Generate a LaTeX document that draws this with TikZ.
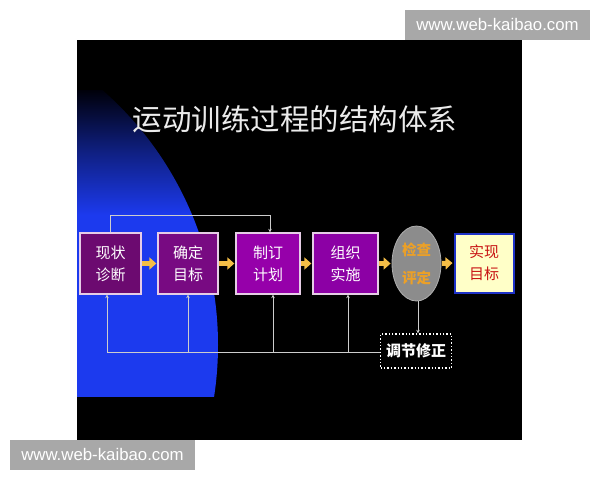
\documentclass[tikz,border=0pt]{standalone}
\usepackage{fontspec}
\setmainfont{Liberation Sans}
\newfontfamily\cjk{Noto Sans CJK SC}
\usetikzlibrary{arrows.meta,shapes.geometric}
\definecolor{blueC}{RGB}{28,58,238}
\definecolor{blueD}{RGB}{0,0,10}
\definecolor{pA}{RGB}{108,10,112}
\definecolor{pB}{RGB}{120,10,130}
\definecolor{pC}{RGB}{150,0,170}
\definecolor{pD}{RGB}{140,0,165}
\definecolor{bord}{RGB}{230,205,230}
\definecolor{ellF}{RGB}{140,140,140}
\definecolor{ellB}{RGB}{175,175,175}
\definecolor{ellT}{RGB}{235,160,40}
\definecolor{yelF}{RGB}{255,255,200}
\definecolor{yelB}{RGB}{30,50,200}
\definecolor{yelT}{RGB}{200,20,20}
\definecolor{arrC}{RGB}{245,190,70}
\definecolor{connC}{RGB}{205,205,205}
\definecolor{wmC}{RGB}{168,168,168}
\tikzset{
  stepbox/.style={draw=bord, line width=1.3pt, text=white, align=center,
    inner sep=0pt, minimum height=61pt, font=\cjk\fontsize{15}{22}\selectfont},
  bigarrow/.style={draw=arrC, line width=5pt, -{Triangle[width=12pt,length=7pt]}, shorten >=1pt, shorten <=0.5pt},
  conn/.style={draw=connC, line width=0.9pt},
  conna/.style={conn, -{Stealth[length=3.5pt,width=3.5pt]}},
  wm/.style={fill=wmC, text=white, inner sep=0pt, minimum width=185pt, minimum height=29.5pt,
    font=\fontsize{16.8}{18}\selectfont}
}
\begin{document}
\begin{tikzpicture}[x=1pt,y=-1pt]
\useasboundingbox (0,0) rectangle (600,480);
\fill[white] (0,0) rectangle (600,480);
\fill[black] (77,40) rectangle (522,440);
% blue sphere
\begin{scope}
  \clip (77,40) rectangle (522,397);
  \clip (-121,345) circle (339);
  \shade[top color=blueD, bottom color=blueC, middle color=blueC!55!black] (77,90) rectangle (240,215);
  \fill[blueC] (77,214.5) rectangle (240,397);
\end{scope}
% title
\node[text=white!92!black, inner sep=0pt, font=\cjk\fontsize{29.5}{32}\selectfont] (title) at (295,119) {运动训练过程的结构体系};
% boxes
\node[stepbox, fill=pA, minimum width=61pt] (b1) at (110.5,263.5) {现状\\诊断};
\node[stepbox, fill=pB, minimum width=60pt] (b2) at (188,263.5) {确定\\目标};
\node[stepbox, fill=pC, minimum width=64pt] (b3) at (268,263.5) {制订\\计划};
\node[stepbox, fill=pD, minimum width=65pt] (b4) at (345.5,263.5) {组织\\实施};
\node[ellipse, draw=ellB, line width=0.8pt, fill=ellF, text=ellT, align=center, inner sep=0pt,
  minimum width=49pt, minimum height=75pt, font=\cjk\bfseries\fontsize{14.5}{28}\selectfont] (b5) at (416.5,263.5) {检查\\评定};
\node[draw=yelB, line width=2pt, fill=yelF, text=yelT, align=center, inner sep=0pt,
  minimum width=59pt, minimum height=59pt, font=\cjk\fontsize{15}{22}\selectfont] (b6) at (484,263) {实现\\目标};
\node[draw=white, dotted, line width=1.4pt, fill=black, text=white, inner sep=0pt,
  minimum width=71pt, minimum height=34pt, font=\cjk\bfseries\fontsize{15}{18}\selectfont] (tune) at (416,351) {调节修正};
% big arrows
\draw[bigarrow] (b1.east) -- (b2.west);
\draw[bigarrow] (b2.east) -- (b3.west);
\draw[bigarrow] (b3.east) -- (b4.west);
\draw[bigarrow] (b4.east) -- (b5.west);
\draw[bigarrow] (b5.east) -- (b6.west);
% top feed-forward connector
\coordinate (t1) at (110,215);
\coordinate (t2) at (270,215);
\draw[conna] (t1 |- b1.north) -- (t1) -- (t2) -- (t2 |- b3.north);
% bottom feedback connectors
\coordinate (c1) at (107,352);
\coordinate (c2) at (188,352);
\coordinate (c3) at (273,352);
\coordinate (c4) at (348,352);
\draw[conn] (tune.west |- c1) -- (c1);
\draw[conna] (c1) -- (c1 |- b1.south);
\draw[conna] (c2) -- (c2 |- b2.south);
\draw[conna] (c3) -- (c3 |- b3.south);
\draw[conna] (c4) -- (c4 |- b4.south);
\draw[conna] ([xshift=1.5pt]b5.south) -- ([xshift=1.5pt]b5.south |- tune.north);
% watermarks
\node[wm] (wm1) at (497.5,24.75) {www.web-kaibao.com};
\node[wm] (wm2) at (102.5,454.75) {www.web-kaibao.com};
\end{tikzpicture}
\end{document}
